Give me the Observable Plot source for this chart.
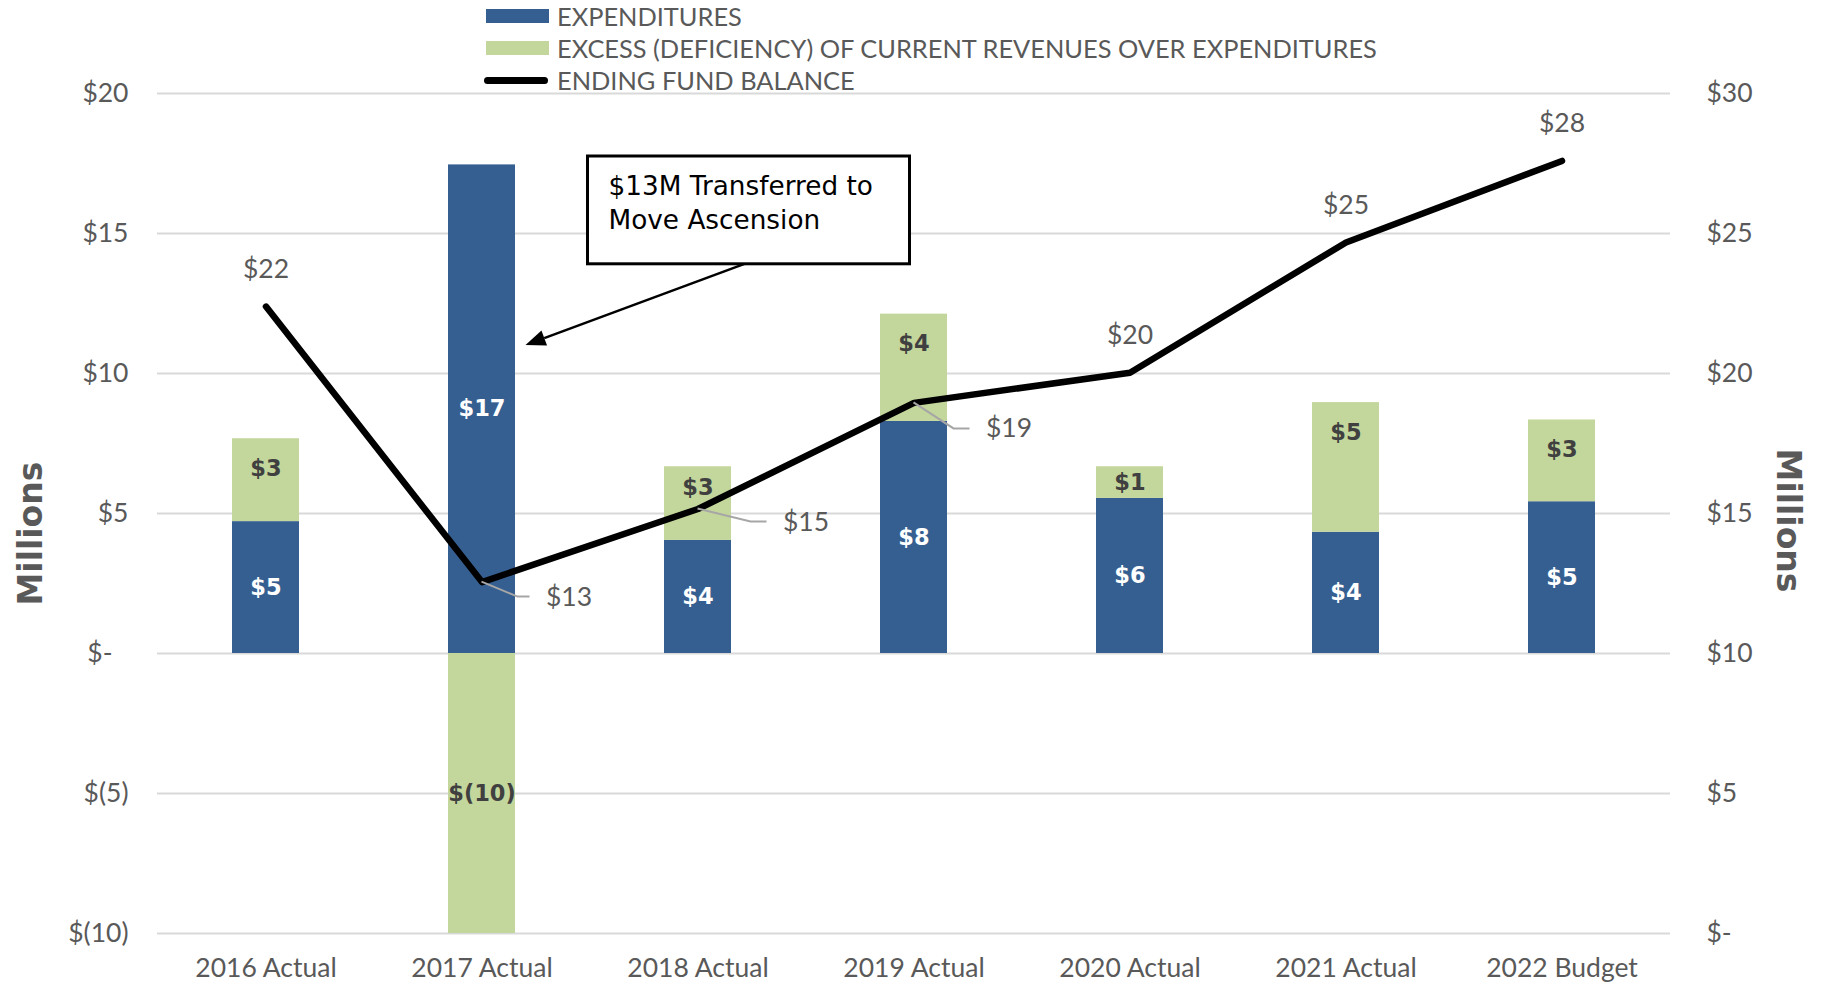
<!DOCTYPE html>
<html>
<head>
<meta charset="utf-8">
<script src="https://cdn.jsdelivr.net/npm/d3@7"></script>
<script src="https://cdn.jsdelivr.net/npm/@observablehq/plot@0.6"></script>
<style>
  body { margin: 0; background: #fff; }
  #wrap { position: relative; width: 1825px; height: 984px; }
  #legend { position: absolute; left: 0; top: 0; font-family: Lato, sans-serif; font-size: 25.4px; color: #595959; }
  .row { position: absolute; left: 484px; height: 30px; white-space: nowrap; display: flex; align-items: center; }
  .sw { width: 63px; height: 14px; margin-left: 2px; margin-right: 8px; }
  .ln { width: 64px; height: 7px; border-radius: 4px; background: #000; margin-right: 9px; }
</style>
</head>
<body>
<div id="wrap"></div>
<script>
// ---- data ----
const years = ["2016 Actual", "2017 Actual", "2018 Actual", "2019 Actual", "2020 Actual", "2021 Actual", "2022 Budget"];
const expenditures = [4.71, 17.45, 4.04, 8.29, 5.54, 4.33, 5.42];
const excess = [2.96, -10.0, 2.63, 3.83, 1.13, 4.63, 2.92];
const fundBalance = [22.39, 12.55, 15.16, 18.95, 20.03, 24.68, 27.59];
const leftTicks = [-10, -5, 0, 5, 10, 15, 20];
const rightTicks = [0, 5, 10, 15, 20, 25, 30];
const seriesNames = ["EXPENDITURES", "EXCESS (DEFICIENCY) OF CURRENT REVENUES OVER EXPENDITURES", "ENDING FUND BALANCE"];
const annotationLines = ["$13M Transferred to", "Move Ascension"];
const axisTitle = "Millions";

(function () {
// ---- styles ----
const BLUE = "#365F91", GREEN = "#C3D69B", GRAY = "#595959";
const RIGHT_OFFSET = 10; // right axis value = left axis value + 10

const fmtTick = v => v === 0 ? "$-" : v < 0 ? `$(${-v})` : `$${v}`;
const money = v => { const r = Math.round(v); return r < 0 ? `$(${-r})` : `$${r}`; };

const barRows = years.flatMap((year, i) => [
  {year, series: "exp", value: expenditures[i]},
  {year, series: "exc", value: excess[i]}
]);
const rows = years.map((year, i) => ({year, exp: expenditures[i], exc: excess[i], bal: fundBalance[i], i}));
const lineY = d => d.bal - RIGHT_OFFSET;
const aboveIdx = [0, 4, 5, 6];

const txt = {fontFamily: "Lato, sans-serif", fill: GRAY};
const bold = {fontFamily: "DejaVu Sans, sans-serif", fontWeight: "bold", fontSize: 22.5};
const LBL = 26.5, TICK = 26.5;

const plot = Plot.plot({
  width: 1825,
  height: 984,
  marginTop: 93,
  marginBottom: 51,
  marginLeft: 157,
  marginRight: 155,
  style: {fontFamily: "Lato, sans-serif", background: "#fff", overflow: "visible"},
  x: {type: "band", domain: years, paddingInner: 0.69, paddingOuter: 0.345, axis: null},
  y: {domain: [-10, 20], axis: null},
  color: {domain: ["exp", "exc"], range: [BLUE, GREEN]},
  marks: [
    Plot.ruleY(leftTicks, {y: d => d, stroke: "#d9d9d9", strokeWidth: 2}),
    Plot.barY(barRows, {x: "year", y: "value", fill: "series"}),
    Plot.line(rows, {x: "year", y: lineY, stroke: "#000", strokeWidth: 6.5, strokeLinejoin: "round", strokeLinecap: "round"}),
    // bar labels
    Plot.text(rows, {x: "year", y: d => d.exp / 2, text: d => money(d.exp), fill: "#fff", ...bold}),
    Plot.text(rows, {x: "year", y: d => d.exc >= 0 ? d.exp + d.exc - Math.min(d.i === 2 ? 0.75 : 1.07, d.exc / 2) : d.exc / 2,
      text: d => money(d.exc), ...bold, fill: "#404040"}),
    // line labels
    Plot.text(rows.filter(d => aboveIdx.includes(d.i)), {x: "year", y: lineY, text: d => money(d.bal), dy: -37, fontSize: LBL, ...txt}),
    Plot.text(rows.filter(d => d.i === 1), {x: "year", y: lineY, text: d => money(d.bal), dx: 64, dy: 15, textAnchor: "start", fontSize: LBL, ...txt}),
    Plot.text(rows.filter(d => d.i === 2), {x: "year", y: lineY, text: d => money(d.bal), dx: 85, dy: 13, textAnchor: "start", fontSize: LBL, ...txt}),
    Plot.text(rows.filter(d => d.i === 3), {x: "year", y: lineY, text: d => money(d.bal), dx: 72, dy: 26, textAnchor: "start", fontSize: LBL, ...txt}),
    // x axis labels
    Plot.text(years, {x: d => d, text: d => d, frameAnchor: "bottom", dy: 43, fontSize: 26.5, ...txt}),
    // left axis labels
    Plot.text(leftTicks.filter(v => v !== 0), {y: d => d, text: fmtTick, frameAnchor: "left", dx: -29, textAnchor: "end", fontSize: TICK, ...txt}),
    Plot.text([0], {y: d => d, text: fmtTick, frameAnchor: "left", dx: -45, textAnchor: "end", fontSize: TICK, ...txt}),
    // right axis labels
    Plot.text(rightTicks, {y: d => d - RIGHT_OFFSET, text: fmtTick, frameAnchor: "right", dx: 36, textAnchor: "start", fontSize: TICK, ...txt}),
    // axis titles
    Plot.text([axisTitle], {text: d => d, frameAnchor: "left", dx: -126, dy: 92, rotate: -90, fontFamily: "DejaVu Sans, sans-serif", fontWeight: "bold", fontSize: 33, fill: GRAY}),
    Plot.text([axisTitle], {text: d => d, frameAnchor: "right", dx: 117, dy: 79, rotate: 90, fontFamily: "DejaVu Sans, sans-serif", fontWeight: "bold", fontSize: 33, fill: GRAY})
  ]
});

document.getElementById("wrap").appendChild(plot);

// ---- overlays drawn with the plot's own scales ----
const sx = plot.scale("x"), sy = plot.scale("y");
const cx = v => sx.apply(v) + sx.bandwidth / 2;
const Y = v => sy.apply(v);
const svg = d3.select(plot);

// leader lines for the right-side balance labels
const leaders = [{i: 1, a: 36, b: 48, dy: 15}, {i: 2, a: 53, b: 69, dy: 13}, {i: 3, a: 40, b: 56, dy: 26}];
const gl = svg.append("g");
for (const l of leaders) {
  const px = cx(years[l.i]), py = Y(fundBalance[l.i] - RIGHT_OFFSET);
  gl.append("path")
    .attr("d", `M${px},${py}L${px + l.a},${py + l.dy}L${px + l.b},${py + l.dy}`)
    .attr("fill", "none").attr("stroke", "#a6a6a6").attr("stroke-width", 2);
}

// annotation box + arrow
const boxL = cx(years[1]) + 106, boxR = cx(years[2]) + 212;
const boxT = Y(17.75), boxB = Y(13.9);
const ga = svg.append("g");
const ax0 = boxL + 157, ay0 = boxB;
const tipX = cx(years[1]) + 44, tipY = Y(11.0);
const ang = Math.atan2(tipY - ay0, tipX - ax0);
const L = 20, W = 8;
const bx = tipX - L * Math.cos(ang), by = tipY - L * Math.sin(ang);
ga.append("line").attr("x1", ax0).attr("y1", ay0).attr("x2", bx).attr("y2", by)
  .attr("stroke", "#000").attr("stroke-width", 2.5);
ga.append("path")
  .attr("d", `M${tipX},${tipY}L${bx + W * Math.sin(ang)},${by - W * Math.cos(ang)}L${bx - W * Math.sin(ang)},${by + W * Math.cos(ang)}Z`)
  .attr("fill", "#000");
ga.append("rect").attr("x", boxL).attr("y", boxT).attr("width", boxR - boxL).attr("height", boxB - boxT)
  .attr("fill", "#fff").attr("stroke", "#000").attr("stroke-width", 3);
annotationLines.forEach((s, k) => {
  ga.append("text").attr("x", boxL + 21).attr("y", boxT + 39 + k * 34)
    .attr("text-anchor", "start")
    .attr("font-family", "DejaVu Sans, sans-serif").attr("font-size", 26.3).attr("fill", "#000").text(s);
});

// ---- legend ----
const legend = document.createElement("div");
legend.id = "legend";
const legendRows = [
  {name: seriesNames[0], kind: "sw", color: BLUE, y: 1},
  {name: seriesNames[1], kind: "sw", color: GREEN, y: 33},
  {name: seriesNames[2], kind: "ln", color: "#000", y: 65}
];
for (const r of legendRows) {
  const row = document.createElement("div");
  row.className = "row";
  row.style.top = r.y + "px";
  const s = document.createElement("div");
  s.className = r.kind;
  s.style.background = r.color;
  const t = document.createElement("span");
  t.textContent = r.name;
  row.appendChild(s); row.appendChild(t);
  legend.appendChild(row);
}
document.getElementById("wrap").appendChild(legend);
})();
</script>
</body>
</html>
